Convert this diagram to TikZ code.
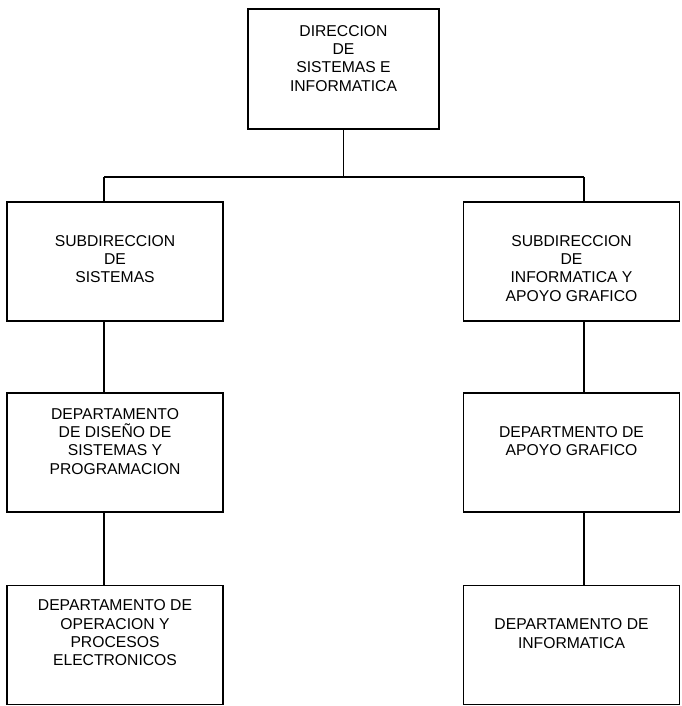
\documentclass[tikz,border=0pt]{standalone}
\usepackage{fontspec}
\setmainfont{Liberation Sans}
\begin{document}
\begin{tikzpicture}[x=1pt,y=-1pt,
  orgbox/.style={draw,line width=1.4pt,rectangle,inner sep=0pt,outer sep=0pt,
                 minimum width=216pt,minimum height=119pt},
  topbox/.style={orgbox,minimum width=191pt,minimum height=120pt},
  label text/.style={anchor=north,inner sep=0pt,align=center,
                 font=\fontsize{15.7}{18.4}\selectfont},
  link/.style={line width=1.4pt}]
\useasboundingbox (0,0) rectangle (681,706);

% boxes
\node[topbox] (dir)  at (343.5,69)  {};
\node[orgbox] (subS) at (115,261.5) {};
\node[orgbox] (subI) at (571.5,261.5) {};
\node[orgbox] (depD) at (115,452.5) {};
\node[orgbox] (depA) at (571.5,452.5) {};
\node[orgbox] (depO) at (115,645) {};
\node[orgbox] (depI) at (571.5,645) {};

% box texts
\node[label text] (tdir)  at ([yshift=-16pt]dir.north)  {DIRECCION\\DE\\SISTEMAS E\\INFORMATICA};
\node[label text] (tsubS) at ([yshift=-33pt]subS.north) {SUBDIRECCION\\DE\\SISTEMAS};
\node[label text] (tsubI) at ([yshift=-33pt]subI.north) {SUBDIRECCION\\DE\\INFORMATICA Y\\APOYO GRAFICO};
\node[label text] (tdepD) at ([yshift=-15pt]depD.north) {DEPARTAMENTO\\DE DISEÑO DE\\SISTEMAS Y\\PROGRAMACION};
\node[label text] (tdepA) at ([yshift=-33pt]depA.north) {DEPARTMENTO DE\\APOYO GRAFICO};
\node[label text] (tdepO) at ([yshift=-14pt]depO.north) {DEPARTAMENTO DE\\OPERACION Y\\PROCESOS\\ELECTRONICOS};
\node[label text] (tdepI) at ([yshift=-33pt]depI.north) {DEPARTAMENTO DE\\INFORMATICA};

% connector columns and bus
\coordinate (colL) at (104,177);
\coordinate (colR) at (584,177);
\coordinate (bus)  at (343.5,177);

\draw[link] (dir.south) -- (bus);
\draw[link] (colL) -- (colR);
\draw[link] (colL) -- (subS.north -| colL);
\draw[link] (colR) -- (subI.north -| colR);
\draw[link] (subS.south -| colL) -- (depD.north -| colL);
\draw[link] (subI.south -| colR) -- (depA.north -| colR);
\draw[link] (depD.south -| colL) -- (depO.north -| colL);
\draw[link] (depA.south -| colR) -- (depI.north -| colR);
\end{tikzpicture}
\end{document}
